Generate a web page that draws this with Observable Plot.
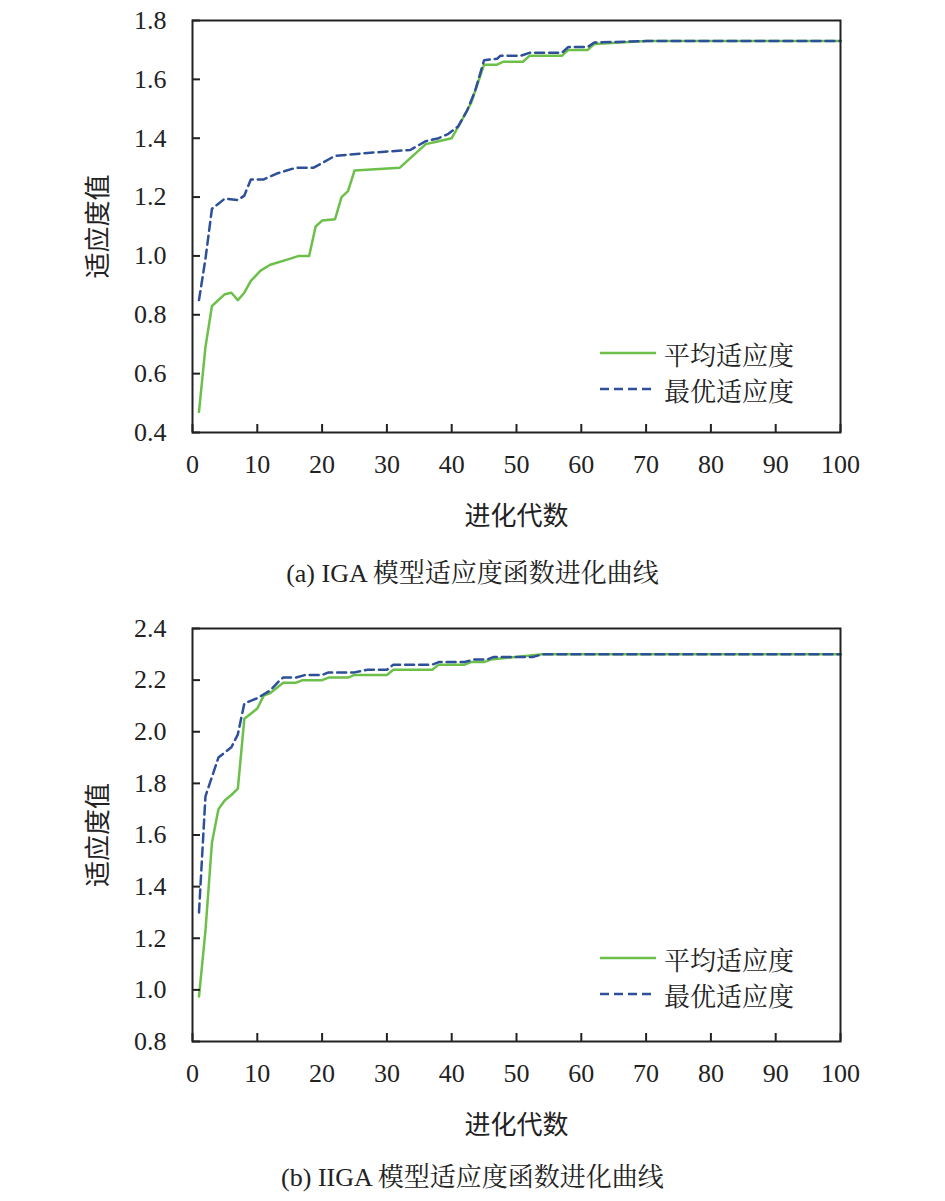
<!DOCTYPE html>
<html><head><meta charset="utf-8">
<script src="https://cdn.jsdelivr.net/npm/d3@7"></script>
<script src="https://cdn.jsdelivr.net/npm/@observablehq/plot@0.6"></script>
<style>
body{margin:0;background:#fff;width:945px;height:1201px;position:relative;font-family:"Liberation Serif","Noto Serif CJK SC","Noto Sans CJK SC",serif;}
.cap{position:absolute;left:0;width:945px;text-align:center;font-size:26px;color:#222;}
.leg{position:absolute;font-size:26px;color:#222;}
.leg div{display:flex;align-items:center;height:36px;}
.leg svg{margin-right:8px}
#a,#b{position:absolute;left:0}
</style></head><body>
<div id="a" style="top:0"></div>
<div id="b" style="top:600px"></div>
<div class="cap" style="top:552px">(a) IGA 模型适应度函数进化曲线</div>
<div class="cap" style="top:1156px">(b) IIGA 模型适应度函数进化曲线</div>
<div class="leg" style="left:600px;top:335px"><div><svg width="56" height="4"><line x1="0" x2="56" y1="2" y2="2" stroke="#6cc04a" stroke-width="2.5"/></svg>平均适应度</div><div><svg width="56" height="4"><line x1="0" x2="56" y1="2" y2="2" stroke="#2e4f9a" stroke-width="2.5" stroke-dasharray="9,5"/></svg>最优适应度</div></div>
<div class="leg" style="left:600px;top:940px"><div><svg width="56" height="4"><line x1="0" x2="56" y1="2" y2="2" stroke="#6cc04a" stroke-width="2.5"/></svg>平均适应度</div><div><svg width="56" height="4"><line x1="0" x2="56" y1="2" y2="2" stroke="#2e4f9a" stroke-width="2.5" stroke-dasharray="9,5"/></svg>最优适应度</div></div>
<script>
const seriesNames = ["平均适应度","最优适应度"];
const aAvgGen = [1,2,3,5,6,7,8,9,10.5,12,15,16.4,18,19,20,22,23,24,25,32,36,38,40,41.3,43,45,47,48,51,52,57,58,61,62,70,100];
const aAvgVal = [0.47,0.69,0.83,0.87,0.875,0.85,0.875,0.915,0.95,0.97,0.99,1.0,1.0,1.10,1.12,1.125,1.2,1.22,1.29,1.30,1.38,1.39,1.40,1.45,1.52,1.65,1.65,1.66,1.66,1.68,1.68,1.70,1.70,1.72,1.73,1.73];
const aBestGen = [1,2,3,5,7,8,9,11,13,16,18.7,22,27,33.6,36,38,39.5,41,42.4,43.6,45,47,47.5,50.6,52,57,58,61,62,70,100];
const aBestVal = [0.85,0.99,1.16,1.195,1.19,1.205,1.26,1.26,1.28,1.30,1.30,1.34,1.35,1.36,1.39,1.40,1.415,1.44,1.495,1.56,1.665,1.67,1.68,1.68,1.69,1.69,1.71,1.71,1.725,1.73,1.73];
const bAvgGen = [1,2,3,4,5,6,7,8,10,11,12,14,16,17,20,21,24,25,30,31,37,38,42,43,45,46,54,100];
const bAvgVal = [0.974,1.23,1.57,1.70,1.735,1.755,1.78,2.05,2.09,2.14,2.15,2.19,2.19,2.20,2.20,2.21,2.21,2.22,2.22,2.24,2.24,2.26,2.26,2.27,2.27,2.28,2.30,2.30];
const bBestGen = [1,2,4,5,6,7,8,10,12,13.5,14,16,17.4,20,21,25,27,30,31,37,38,42,43.5,45.5,46.5,52.6,54,100];
const bBestVal = [1.30,1.75,1.90,1.92,1.94,1.99,2.11,2.13,2.16,2.20,2.21,2.21,2.22,2.22,2.23,2.23,2.24,2.24,2.26,2.26,2.27,2.27,2.28,2.28,2.29,2.29,2.30,2.30];
const aYTicks = [0.4,0.6,0.8,1.0,1.2,1.4,1.6,1.8];
const bYTicks = [0.8,1.0,1.2,1.4,1.6,1.8,2.0,2.2,2.4];
const xTicks = [0,10,20,30,40,50,60,70,80,90,100];

function mk(avgG, avgV, bestG, bestV, yTicks, yDom, mt, h, mb){
  const avg = avgG.map((g,i)=>({g, v:avgV[i]}));
  const best = bestG.map((g,i)=>({g, v:bestV[i]}));
  return Plot.plot({
    width:945, height:h, marginLeft:192, marginRight:105, marginTop:mt, marginBottom:mb,
    style:{fontFamily:'"Liberation Serif","Noto Sans CJK SC",serif', fontSize:"26px", color:"#222", background:"#fff"},
    x:{domain:[0,100]}, y:{domain:yDom},
    marks:[
      Plot.line(avg,{x:"g",y:"v",stroke:"#6cc04a",strokeWidth:2.5}),
      Plot.line(best,{x:"g",y:"v",stroke:"#2e4f9a",strokeWidth:2.5,strokeDasharray:"9,5"}),
      Plot.axisX({ticks:xTicks, tickSize:-8, tickPadding:30, fontSize:26, tickFormat:d=>String(d), label:"进化代数", labelAnchor:"center", labelArrow:"none", labelOffset:92, strokeWidth:2}),
      Plot.axisY({ticks:yTicks, tickSize:-8, tickPadding:34, fontSize:26, tickFormat:d=>d.toFixed(1), label:"适应度值", labelAnchor:"center", labelArrow:"none", labelOffset:104, strokeWidth:2}),
      Plot.frame({stroke:"#222", strokeWidth:2})
    ]
  });
}
document.getElementById("a").append(mk(aAvgGen,aAvgVal,aBestGen,aBestVal,aYTicks,[0.4,1.8],20,545,113));
document.getElementById("b").append(mk(bAvgGen,bAvgVal,bBestGen,bBestVal,bYTicks,[0.8,2.4],28,555,114));
</script></body></html>
